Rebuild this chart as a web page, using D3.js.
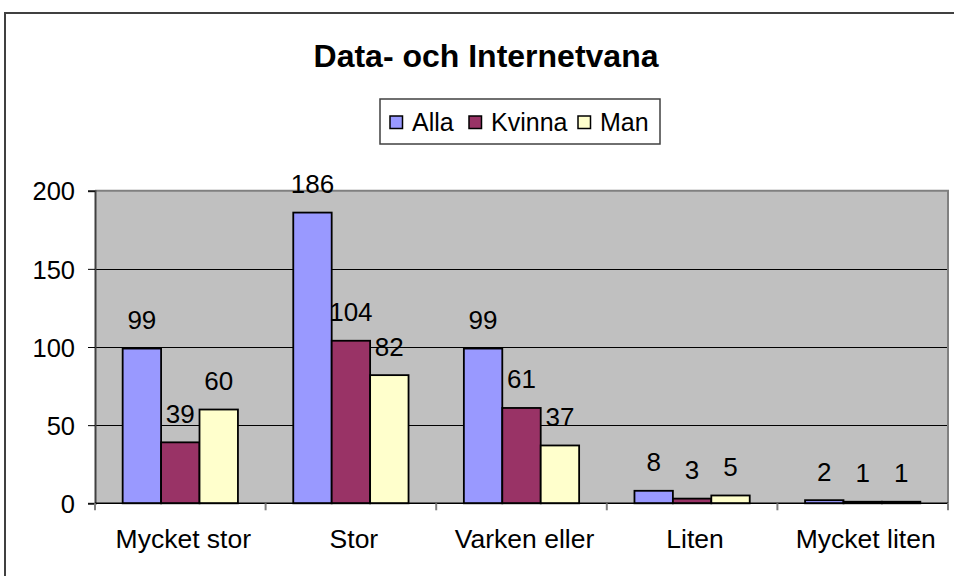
<!DOCTYPE html>
<html><head><meta charset="utf-8">
<script src="https://cdn.jsdelivr.net/npm/d3@7"></script>
<style>body{margin:0;background:#fff}svg{display:block}text{font-family:"Liberation Sans",Arial,sans-serif}</style>
</head><body><svg id="c" width="954" height="576"></svg>
<script>
const categories = ["Mycket stor","Stor","Varken eller","Liten","Mycket liten"];
const seriesNames = ["Alla","Kvinna","Man"];
const alla = [99,186,99,8,2];
const kvinna = [39,104,61,3,1];
const man = [60,82,37,5,1];
const yTicks = [0,50,100,150,200];
const colors = ["#9999FF","#993366","#FFFFCC"];
const title = "Data- och Internetvana";

const series = [alla,kvinna,man];
const svg = d3.select("#c");
const L=95,R=948,T=190.7,B=503.3;

svg.append("rect").attr("x",5).attr("y",13).attr("width",1000).attr("height",700)
  .attr("fill","#fff").attr("stroke","#404040").attr("stroke-width",2);

svg.append("text").attr("x",486).attr("y",67).attr("text-anchor","middle")
  .attr("font-size",32).attr("font-weight","bold").text(title);

const x0 = d3.scaleBand().domain(categories).range([L,R]).paddingInner(0).paddingOuter(0);
const x1 = d3.scaleBand().domain(seriesNames).range([0,x0.bandwidth()]).paddingInner(0).paddingOuter(0.72);
const y = d3.scaleLinear().domain([0,200]).range([B,T]);

svg.append("rect").attr("x",L).attr("y",T).attr("width",R-L).attr("height",B-T).attr("fill","#C0C0C0");
svg.append("g").selectAll("line").data(yTicks.filter(d=>d>0&&d<200)).join("line")
  .attr("x1",L).attr("x2",R).attr("y1",d=>Math.round(y(d))+0.5).attr("y2",d=>Math.round(y(d))+0.5)
  .attr("stroke","#000").attr("stroke-width",1);
svg.append("path").attr("d",`M${L},${T}H${R}V${B}`).attr("fill","none").attr("stroke","#808080").attr("stroke-width",2);

const groups = svg.append("g").selectAll("g").data(categories).join("g")
  .attr("transform",d=>`translate(${x0(d)},0)`);
groups.each(function(c,ci){
  const g=d3.select(this);
  seriesNames.forEach((s,si)=>{
    const v=series[si][ci];
    g.append("rect").attr("x",x1(s)).attr("y",y(v)).attr("width",x1.bandwidth()).attr("height",B-y(v))
      .attr("fill",colors[si]).attr("stroke","#000").attr("stroke-width",1.8);
    g.append("text").attr("x",x1(s)+x1.bandwidth()/2).attr("y",y(v)-19.5).attr("text-anchor","middle")
      .attr("font-size",26).text(v);
  });
});

// axes
const yAxis = d3.axisLeft(y).tickValues(yTicks).tickSize(7).tickPadding(13);
const ya = svg.append("g").attr("transform",`translate(${L},0)`).call(yAxis);
ya.select(".domain").attr("stroke","#404040").attr("stroke-width",2);
ya.selectAll(".tick line").attr("stroke","#000");
ya.selectAll("text").attr("font-size",25.5).attr("font-family","Liberation Sans, Arial, sans-serif").attr("fill","#000").attr("dy","0.36em");

const xa = svg.append("g").attr("transform",`translate(0,${B})`);
xa.append("line").attr("x1",L).attr("x2",R).attr("y1",0).attr("y2",0).attr("stroke","#000").attr("stroke-width",1.5);
xa.selectAll(".tk").data(d3.range(categories.length+1)).join("line")
  .attr("x1",i=>L+i*x0.bandwidth()).attr("x2",i=>L+i*x0.bandwidth()).attr("y1",0).attr("y2",7)
  .attr("stroke","#808080").attr("stroke-width",2);
xa.selectAll("text").data(categories).join("text")
  .attr("x",d=>x0(d)+x0.bandwidth()/2+3).attr("y",45).attr("text-anchor","middle").attr("font-size",26.5).text(d=>d);

// legend
const lg = svg.append("g");
lg.append("rect").attr("x",380).attr("y",99).attr("width",280).attr("height",45).attr("fill","#fff").attr("stroke","#404040").attr("stroke-width",1.5);
const lx=[390,469,578];
seriesNames.forEach((s,i)=>{
  lg.append("rect").attr("x",lx[i]).attr("y",116).attr("width",12.5).attr("height",12.5).attr("fill",colors[i]).attr("stroke","#000").attr("stroke-width",1.5);
  lg.append("text").attr("x",lx[i]+22).attr("y",131).attr("font-size",25).text(s);
});
</script></body></html>
